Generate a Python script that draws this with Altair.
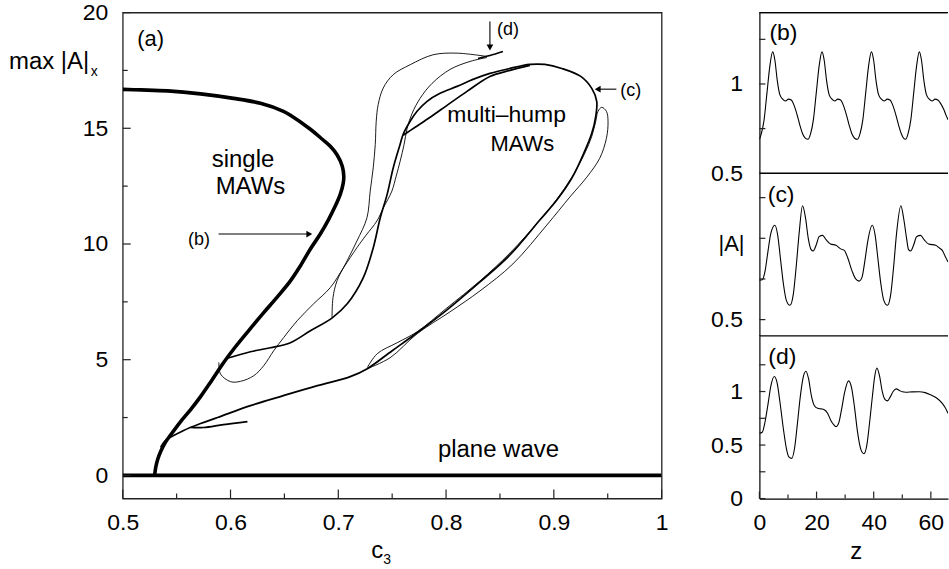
import altair as alt
import pandas as pd

FONT = "Liberation Sans"

# ---------------- panel (a): max|A|_x versus c3 ----------------
single_c3 = [0.5296, 0.5306, 0.5324, 0.5352, 0.5389, 0.5454, 0.5537, 0.5630, 0.5722, 0.5824,
             0.5935, 0.6046, 0.6167, 0.6306, 0.6435, 0.6556, 0.6648, 0.6741, 0.6833, 0.6907,
             0.6972, 0.7019, 0.7046, 0.7051, 0.7037, 0.6991, 0.6926, 0.6852, 0.6741, 0.6556,
             0.6491, 0.6278, 0.6028, 0.5722, 0.5417, 0.5167, 0.5]
single_A = [0, 0.345, 0.690, 1.034, 1.379, 1.810, 2.328, 2.845, 3.405, 4.095,
            4.871, 5.560, 6.250, 7.026, 7.716, 8.405, 9.052, 9.784, 10.431, 11.034,
            11.638, 12.155, 12.629, 12.931, 13.362, 13.836, 14.224, 14.526, 14.957, 15.560,
            15.733, 16.078, 16.293, 16.487, 16.616, 16.659, 16.681]

plane_c3 = [0.5, 1.0]
plane_A = [0.0, 0.0]

multi_c3 = [0.5352, 0.5398, 0.5565, 0.5722, 0.5880, 0.6185, 0.6491, 0.6806, 0.7111, 0.7269,
            0.7500, 0.7731, 0.8009, 0.8315, 0.8593, 0.8870, 0.9028, 0.9167, 0.9278, 0.9352,
            0.9389, 0.9398, 0.9352, 0.9250, 0.9074, 0.8917, 0.8778, 0.8593, 0.8407, 0.8250,
            0.8102, 0.7944, 0.7824, 0.7731, 0.7667, 0.7602, 0.7574, 0.7509, 0.7454, 0.7389,
            0.7324, 0.7231, 0.7083, 0.6944, 0.6741, 0.6556, 0.6370, 0.6185, 0.5954]
multi_A = [1.207, 1.509, 1.940, 2.241, 2.500, 3.017, 3.448, 3.879, 4.267, 4.612,
           5.388, 6.164, 7.155, 8.362, 9.526, 11.034, 11.897, 12.845, 13.922, 14.784,
           15.517, 16.164, 16.724, 17.241, 17.586, 17.759, 17.759, 17.586, 17.371, 17.112,
           16.810, 16.509, 16.164, 15.733, 15.302, 14.741, 14.310, 13.276, 12.155, 11.121,
           9.828, 8.534, 7.414, 6.810, 6.250, 5.733, 5.517, 5.345, 5.043]

lens_c3 = [0.8778, 0.8593, 0.8407, 0.8194, 0.8009, 0.7852, 0.7713, 0.7602]
lens_A = [17.716, 17.500, 17.241, 16.595, 15.991, 15.474, 15.043, 14.698]

tail_c3 = [0.5630, 0.5750, 0.5935, 0.6157]
tail_A = [2.070, 2.069, 2.198, 2.328]

dseg_c3 = [0.8296, 0.8407, 0.8528]
dseg_A = [18.017, 18.147, 18.319]

thinD_c3 = [0.8380, 0.8102, 0.7880, 0.7667, 0.7509, 0.7417, 0.7370, 0.7352, 0.7343, 0.7324,
            0.7296, 0.7266, 0.7173, 0.7081, 0.6988, 0.6951, 0.6942]
thinD_A = [18.103, 18.246, 18.177, 17.746, 17.315, 16.737, 16.022, 15.302, 14.297, 13.289,
           12.284, 11.134, 10.129, 9.267, 8.405, 7.685, 6.823]

thinE_c3 = [0.8380, 0.8222, 0.8037, 0.7870, 0.7759, 0.7685, 0.7639, 0.7611, 0.7574, 0.7537,
            0.7497, 0.7417, 0.7358, 0.7259, 0.7173, 0.7049, 0.6926, 0.6771, 0.6618, 0.6494,
            0.6401, 0.6308, 0.6216, 0.6093, 0.6000, 0.5907, 0.5892]
thinE_A = [18.060, 17.888, 17.543, 16.940, 16.293, 15.647, 15.000, 14.310, 13.578, 12.931,
           12.284, 11.552, 10.991, 10.388, 9.841, 8.978, 8.116, 7.414, 6.681, 5.961,
           5.388, 4.741, 4.310, 4.065, 4.052, 4.384, 4.884]

thinC_c3 = [0.7269, 0.7481, 0.7731, 0.8037, 0.8315, 0.8620, 0.8935, 0.9148, 0.9306, 0.9426,
            0.9488, 0.9503, 0.9488, 0.9444, 0.9410, 0.9389, 0.9352, 0.9287, 0.9167, 0.9028,
            0.8870, 0.8593, 0.8315, 0.8009, 0.7731, 0.7546, 0.7361, 0.7269]
thinC_A = [4.612, 5.086, 6.121, 7.069, 7.974, 9.138, 10.819, 12.026, 12.888, 13.707,
           14.569, 15.302, 15.733, 15.905, 15.733, 15.302, 14.655, 13.922, 12.888, 11.940,
           11.034, 9.612, 8.405, 7.241, 6.207, 5.733, 5.259, 4.655]

main_x_labels = [0.5, 0.6, 0.7, 0.8, 0.9, 1.0]
main_x_minor = [0.55, 0.65, 0.75, 0.85, 0.95]
main_y_labels = [0, 5, 10, 15, 20]
main_y_minor = [2.5, 7.5, 12.5, 17.5]

ann_text = ["single", "MAWs", "multi\u2013hump", "MAWs", "plane wave",
            "(a)", "(b)", "(c)", "(d)"]
ann_c3 = [0.6116, 0.6185, 0.8562, 0.8708, 0.8486, 0.5259, 0.5708, 0.9713, 0.8574]
ann_A = [13.32, 12.16, 15.27, 14.01, 0.78, 18.55, 9.96, 16.41, 19.05]
ann_size = [24, 24, 23, 22, 24, 22, 18, 18, 18]

arrow_c3 = [0.5889, 0.9580, 0.8407]
arrow_c3_end = [0.6731, 0.9407, 0.8407]
arrow_A = [10.43, 16.69, 19.61]
arrow_A_end = [10.43, 16.69, 18.49]
arrow_shape = ["triangle-right", "triangle-left", "triangle-down"]

# ---------------- panels (b)-(d): |A| versus z ----------------
b_z = [0, 0.65, 1.65, 2.65, 3.65, 4.65, 5.45, 6.25, 7.15, 8.15, 9.15, 10.15, 11.15, 12.15,
       13.15, 14.15, 15.15, 16.15, 17.0,
       17.9, 18.9, 19.9, 20.9, 21.9, 22.7, 23.5, 24.4, 25.4, 26.4, 27.4, 28.4, 29.4, 30.4,
       31.4, 32.4, 33.4, 34.3,
       35.2, 36.2, 37.2, 38.2, 39.2, 40.0, 40.8, 41.7, 42.7, 43.7, 44.7, 45.7, 46.7, 47.7,
       48.7, 49.7, 50.5, 51.2,
       52.0, 53.0, 54.0, 55.0, 55.95, 56.75, 57.55, 58.45, 59.45, 60.45, 61.45, 62.45, 63.45,
       64.45, 65.45, 66.0]
b_A = [0.69, 0.72, 0.80, 0.95, 1.10, 1.18, 1.13, 1.02, 0.94, 0.915, 0.905, 0.915, 0.91, 0.88,
       0.83, 0.77, 0.72, 0.695, 0.69,
       0.72, 0.80, 0.95, 1.10, 1.18, 1.13, 1.02, 0.94, 0.915, 0.905, 0.915, 0.91, 0.88, 0.83,
       0.77, 0.72, 0.695, 0.69,
       0.72, 0.80, 0.95, 1.10, 1.18, 1.13, 1.02, 0.94, 0.915, 0.905, 0.915, 0.91, 0.88, 0.83,
       0.77, 0.72, 0.695, 0.69,
       0.72, 0.80, 0.95, 1.10, 1.18, 1.13, 1.02, 0.94, 0.915, 0.905, 0.915, 0.91, 0.89,
       0.86, 0.82, 0.80]

c_z = [0, 1.0, 2.0, 3.0, 4.0, 5.4, 6.4, 7.4, 8.4, 9.4, 10.7, 11.9, 12.9, 13.9, 15.1, 16.1,
       17.1, 18.1, 18.8, 19.9, 20.9, 22.1, 23.4, 24.9, 26.8, 28.4, 29.7, 30.9, 32.4, 33.7,
       34.9, 35.9, 36.9, 37.9, 39.5, 40.5, 41.5, 42.5, 43.5, 44.8, 46.0, 47.0, 48.0, 49.5,
       50.5, 51.5, 52.2, 52.9, 54.0, 55.0, 56.4, 57.7, 59.2, 61.7, 63.0, 64.0, 65.0, 66.0]
c_A = [0.742, 0.745, 0.80, 0.92, 1.03, 1.08, 1.02, 0.87, 0.72, 0.62, 0.588, 0.66, 0.83, 1.03,
       1.20, 1.13, 1.00, 0.93, 0.922, 0.96, 1.01, 1.018, 0.99, 0.965, 0.957, 0.935, 0.926,
       0.88, 0.80, 0.75, 0.737, 0.76, 0.86, 0.98, 1.08, 1.02, 0.87, 0.72, 0.62, 0.588, 0.66,
       0.83, 1.03, 1.20, 1.12, 1.00, 0.93, 0.922, 0.96, 1.01, 1.018, 0.99, 0.965, 0.957,
       0.94, 0.926, 0.89, 0.854]

d_z = [0, 1, 2, 3, 4, 5.2, 6.2, 7.2, 8.4, 9.5, 10.3, 11.3, 12.3, 13.3, 14.3, 15.3, 16.3,
       17.2, 18.2, 19.2, 20.4, 21.6, 22.7, 23.8, 25, 26, 26.8, 27.8, 28.8, 29.8, 31.2, 32.3,
       33.3, 34.3, 35.5, 36.6, 37.6, 38.6, 39.6, 40.4, 41.1, 42, 43, 44, 44.8, 45.8, 46.8,
       47.9, 49, 50, 51.2, 53.5, 55.9, 58, 59.9, 62, 64, 65, 66]
d_A = [0.61, 0.62, 0.72, 0.88, 1.05, 1.14, 1.08, 0.90, 0.65, 0.46, 0.39, 0.375, 0.47, 0.70,
       0.95, 1.13, 1.19, 1.12, 0.96, 0.87, 0.843, 0.838, 0.83, 0.80, 0.73, 0.69, 0.672, 0.71,
       0.84, 0.99, 1.10, 1.03, 0.85, 0.63, 0.46, 0.42, 0.50, 0.72, 0.97, 1.15, 1.22, 1.15,
       1.00, 0.925, 0.913, 0.95, 1.00, 1.025, 1.01, 0.998, 0.994, 0.997, 0.998, 0.99, 0.969,
       0.94, 0.89, 0.85, 0.797]

z_labels = [0, 20, 40, 60]
z_minor = [10, 30, 50]

# ======================================================================
W, H = 540, 487
RW = 189
GAP = 98


def curve_df(name, xs_, ys_):
    return pd.DataFrame({"curve": name, "i": list(range(len(xs_))), "c3": xs_, "A": ys_})


thick_df = pd.concat([curve_df("single", single_c3, single_A),
                      curve_df("plane", plane_c3, plane_A)])
medium_df = pd.concat([curve_df("multi", multi_c3, multi_A),
                       curve_df("lens", lens_c3, lens_A),
                       curve_df("tail", tail_c3, tail_A),
                       curve_df("dseg", dseg_c3, dseg_A)])
thin_df = pd.concat([curve_df("D", thinD_c3, thinD_A),
                     curve_df("E", thinE_c3, thinE_A),
                     curve_df("C", thinC_c3, thinC_A)])

xs = alt.Scale(domain=[0.5, 1.0], nice=False, zero=False)
ys = alt.Scale(domain=[-1, 20], nice=False, zero=False)

lab = dict(labelFont=FONT, labelFontSize=23, labelColor="black", labelOverlap=False,
           labelFlush=False, ticks=False, tickSize=0, grid=False, title=None)
xaxis = alt.Axis(values=main_x_labels, format="~g", domain=False, labelPadding=13, **lab)
yaxis = alt.Axis(values=main_y_labels, format="d", domain=False, labelPadding=15, **lab)


def X(f):
    return alt.X(f, type="quantitative", scale=xs, axis=xaxis)


def Y(f):
    return alt.Y(f, type="quantitative", scale=ys, axis=yaxis)


def lines(df, w):
    return alt.Chart(df).mark_line(color="black", strokeWidth=w, interpolate="catmull-rom",
                                   clip=True).encode(
        x=X("c3"), y=Y("A"), detail="curve:N", order="i:Q")


thick = lines(thick_df, 3.6)
medium = lines(medium_df, 1.7)
thin = lines(thin_df, 0.9)

tick_col = "#222"
xt_major = alt.Chart(pd.DataFrame({"v": main_x_labels})).mark_rule(
    color=tick_col, strokeWidth=1.2).encode(x=X("v"), y=alt.value(H), y2=alt.value(H - 9))
xt_minor = alt.Chart(pd.DataFrame({"v": main_x_minor})).mark_rule(
    color=tick_col, strokeWidth=1.2).encode(x=X("v"), y=alt.value(H), y2=alt.value(H - 5))
yt_major = alt.Chart(pd.DataFrame({"v": main_y_labels})).mark_rule(
    color=tick_col, strokeWidth=1.2).encode(y=Y("v"), x=alt.value(0), x2=alt.value(8))
yt_minor = alt.Chart(pd.DataFrame({"v": main_y_minor})).mark_rule(
    color=tick_col, strokeWidth=1.2).encode(y=Y("v"), x=alt.value(0), x2=alt.value(5))

ann_df = pd.DataFrame({"t": ann_text, "c3": ann_c3, "A": ann_A, "fs": ann_size})
ann = alt.Chart(ann_df).mark_text(font=FONT, color="black", align="center",
                                  baseline="alphabetic").encode(
    x=X("c3"), y=Y("A"), text="t:N", size=alt.Size("fs:Q", scale=None, legend=None))

arr_df = pd.DataFrame({"x": arrow_c3, "x2": arrow_c3_end, "y": arrow_A, "y2": arrow_A_end,
                       "shape": arrow_shape})
arr_line = alt.Chart(arr_df).mark_rule(color="black", strokeWidth=1.1).encode(
    x=X("x"), x2="x2", y=Y("y"), y2="y2")
arr_head = alt.Chart(arr_df).mark_point(filled=True, color="black", opacity=1, size=45).encode(
    x=X("x2"), y=Y("y2"),
    shape=alt.Shape("shape:N", scale=None, legend=None))

ytitle = alt.Chart(pd.DataFrame({"t": ["max |A|"]})).mark_text(
    font=FONT, fontSize=24, align="left", baseline="alphabetic", color="black").encode(
    x=alt.value(-114), y=alt.value(57), text="t:N")
ysub = alt.Chart(pd.DataFrame({"t": ["x"]})).mark_text(
    font=FONT, fontSize=14, align="left", baseline="alphabetic", color="black").encode(
    x=alt.value(-32), y=alt.value(64), text="t:N")
xtitle = alt.Chart(pd.DataFrame({"t": ["c"]})).mark_text(
    font=FONT, fontSize=24, align="center", baseline="alphabetic", color="black").encode(
    x=alt.value(255), y=alt.value(547), text="t:N")
xsub = alt.Chart(pd.DataFrame({"t": ["3"]})).mark_text(
    font=FONT, fontSize=14, align="left", baseline="alphabetic", color="black").encode(
    x=alt.value(261), y=alt.value(553), text="t:N")

# top frame line of the right-hand column of panels (same height as the main frame top)
right_top = alt.Chart(pd.DataFrame({"v": [20]})).mark_rule(
    color="black", strokeWidth=1.3).encode(
    y=Y("v"), x=alt.value(W + GAP), x2=alt.value(W + GAP + RW - 1))

main = alt.layer(
    thick, medium, thin, xt_major, xt_minor, yt_major, yt_minor, ann, arr_line, arr_head,
    ytitle, ysub, xtitle, xsub, right_top
).properties(width=W, height=H,
             view=alt.ViewBackground(stroke="#222", strokeWidth=1.3))

# ---------------- right panels ----------------
zs = alt.Scale(domain=[0, 66], nice=False, zero=False)


def right_panel(z, v, ydom, ylabels, yticks, h, label, label_z, label_v, bottom=False,
                extra=None):
    ysc = alt.Scale(domain=ydom, nice=False, zero=False)
    yax = alt.Axis(values=ylabels, format="~g", domain=True, domainColor="black",
                   domainWidth=1.2, labelPadding=17, **lab)
    if bottom:
        xax = alt.Axis(values=z_labels, format="d", domain=True, domainColor="black",
                       domainWidth=1.2, labelPadding=13, orient="bottom", **lab)
    else:
        xax = None

    def ZX(f):
        return alt.X(f, type="quantitative", scale=zs, axis=xax)

    def ZY(f):
        return alt.Y(f, type="quantitative", scale=ysc, axis=yax)

    df = pd.DataFrame({"z": z, "A": v})
    line = alt.Chart(df).mark_line(color="black", strokeWidth=1.1, interpolate="monotone",
                                   clip=True).encode(x=ZX("z"), y=ZY("A"))
    yt = alt.Chart(pd.DataFrame({"v": yticks})).mark_rule(
        color=tick_col, strokeWidth=1.2).encode(y=ZY("v"), x=alt.value(0), x2=alt.value(6))
    txt = alt.Chart(pd.DataFrame({"t": [label], "z": [label_z], "A": [label_v]})).mark_text(
        font=FONT, fontSize=23, align="center", baseline="alphabetic", color="black").encode(
        x=ZX("z"), y=ZY("A"), text="t:N")
    top_rule = alt.Chart(pd.DataFrame({"v": [ydom[1]]})).mark_rule(
        color="black", strokeWidth=1.3).encode(y=ZY("v"), x=alt.value(0), x2=alt.value(RW))
    layers = [line, yt, txt, top_rule]
    if bottom:
        layers.append(alt.Chart(pd.DataFrame({"v": z_labels})).mark_rule(
            color=tick_col, strokeWidth=1.2).encode(x=ZX("v"), y=alt.value(h),
                                                    y2=alt.value(h - 7)))
        layers.append(alt.Chart(pd.DataFrame({"v": z_minor})).mark_rule(
            color=tick_col, strokeWidth=1.2).encode(x=ZX("v"), y=alt.value(h),
                                                    y2=alt.value(h - 4)))
        layers.append(alt.Chart(pd.DataFrame({"t": ["z"]})).mark_text(
            font=FONT, fontSize=24, align="center", baseline="alphabetic",
            color="black").encode(x=alt.value(97), y=alt.value(224), text="t:N"))
    if extra is not None:
        layers.append(extra)
    return alt.layer(*layers).properties(width=RW, height=h,
                                         view=alt.ViewBackground(stroke=None))


abs_title = alt.Chart(pd.DataFrame({"t": ["|A|"]})).mark_text(
    font=FONT, fontSize=22, align="center", baseline="alphabetic", color="black").encode(
    x=alt.value(-28), y=alt.value(78), text="t:N")

pb = right_panel(b_z, b_A, [0.5, 1.4], [0.5, 1], [0.75, 1, 1.25], 161, "(b)", 8.4, 1.249)
pc = right_panel(c_z, c_A, [0.4, 1.4], [0.5], [0.5, 0.75, 1, 1.25], 163, "(c)", 7.6,
                 1.221, extra=abs_title)
pd_ = right_panel(d_z, d_A, [0, 1.52], [0, 0.5, 1], [0, 0.25, 0.5, 0.75, 1, 1.25], 163,
                  "(d)", 8.0, 1.253, bottom=True)

right = alt.vconcat(pb, pc, pd_, spacing=0, bounds="flush")

chart = alt.hconcat(main, right, spacing=GAP, bounds="flush").properties(
    padding={"left": 8, "top": 0, "right": 0, "bottom": 0}
).configure_view(stroke=None).resolve_scale(y="independent")

chart.save("out.html", embed_options={"renderer": "svg", "actions": False})
